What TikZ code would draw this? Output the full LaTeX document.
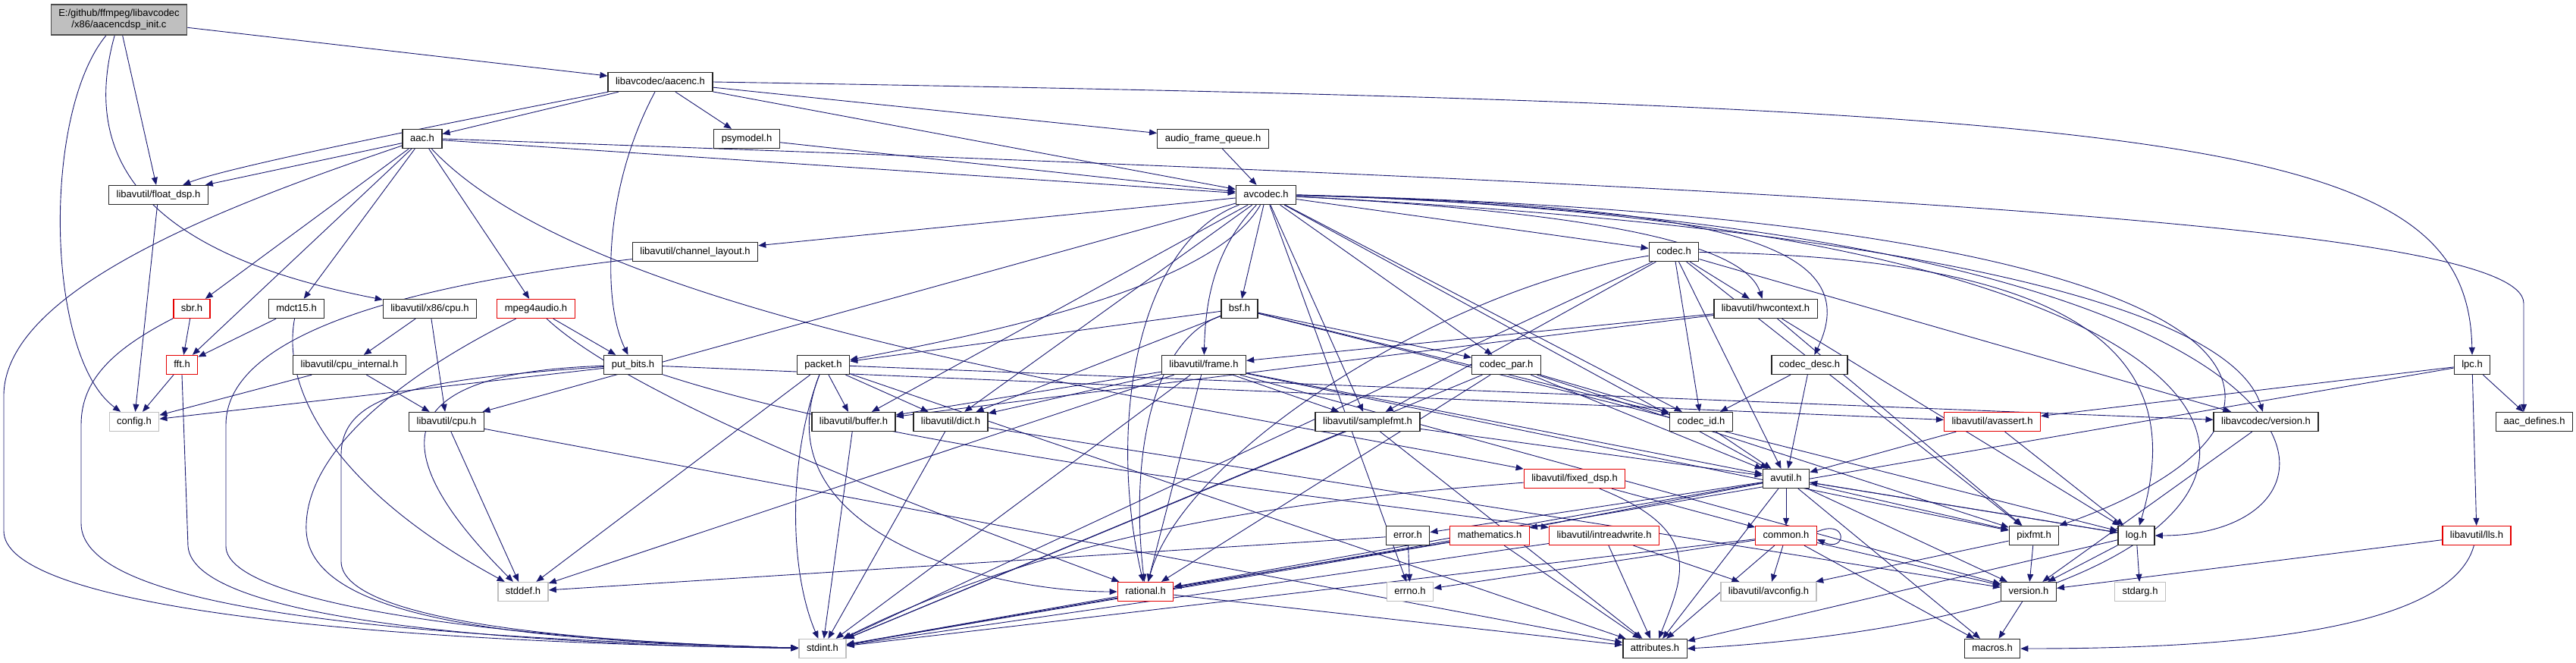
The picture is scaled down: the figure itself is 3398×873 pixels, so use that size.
\documentclass[tikz,border=0pt]{standalone}
\usepackage{fontspec}
\setmainfont{Liberation Sans}
\usepackage{tikz}
\usetikzlibrary{arrows.meta, positioning, backgrounds}
\definecolor{edgeblue}{HTML}{191970}
\definecolor{rootgray}{HTML}{BFBFBF}
\tikzstyle{file} = [rectangle, draw=black!85, fill=white, line width=1.3pt,
 inner xsep=10pt, inner ysep=0pt, minimum height=25pt,
 text height=10pt, text depth=3pt, font=\fontsize{13}{15}\selectfont]
\tikzstyle{cut} = [file, draw=red!90!black]
\tikzstyle{sys} = [file, draw=black!25]
\tikzstyle{main} = [rectangle, draw=black!70, fill=rootgray, line width=1.3pt,
 inner xsep=10pt, minimum height=40pt, align=center,
 font=\fontsize{13}{15}\selectfont]
\tikzstyle{dep} = [draw=edgeblue, line width=0.9pt, -{Triangle[length=10pt,width=8pt]}]

\begin{document}
\begin{tikzpicture}[x=1pt, y=-1pt]
\useasboundingbox (0,0) rectangle (3398,873);
% files, row by row
\node(root) [main] at (157,26) {E:/github/ffmpeg/libavcodec\\/x86/aacencdsp\_init.c};
\node(aacenc) [file] at (871,108) {libavcodec/aacenc.h};
\node(aac) [file] at (557,183) {aac.h};
\node(psymodel) [file] at (985,183) {psymodel.h};
\node(audio_frame_queue) [file] at (1600,183) {audio\_frame\_queue.h};
\node(float_dsp) [file] at (209,257) {libavutil/float\_dsp.h};
\node(avcodec) [file] at (1670,257) {avcodec.h};
\node(channel_layout) [file] at (917,332) {libavutil/channel\_layout.h};
\node(codec) [file] at (2208,332) {codec.h};
\node(sbr) [cut] at (253,407) {sbr.h};
\node(mdct15) [file] at (391,407) {mdct15.h};
\node(x86_cpu) [file] at (567,407) {libavutil/x86/cpu.h};
\node(mpeg4audio) [cut] at (707,407) {mpeg4audio.h};
\node(bsf) [file] at (1635,407) {bsf.h};
\node(hwcontext) [file] at (2329,407) {libavutil/hwcontext.h};
\node(fft) [cut] at (240,481) {fft.h};
\node(cpu_internal) [file] at (461,481) {libavutil/cpu\_internal.h};
\node(put_bits) [file] at (835,481) {put\_bits.h};
\node(packet) [file] at (1086,481) {packet.h};
\node(frame) [file] at (1588,481) {libavutil/frame.h};
\node(codec_par) [file] at (1987,481) {codec\_par.h};
\node(codec_desc) [file] at (2387,481) {codec\_desc.h};
\node(lpc) [file] at (3261,481) {lpc.h};
\node(config) [sys] at (177,556) {config.h};
\node(cpu) [file] at (589,556) {libavutil/cpu.h};
\node(buffer) [file] at (1126,556) {libavutil/buffer.h};
\node(dict) [file] at (1254,556) {libavutil/dict.h};
\node(samplefmt) [file] at (1804,556) {libavutil/samplefmt.h};
\node(codec_id) [file] at (2244,556) {codec\_id.h};
\node(avassert) [cut] at (2628,556) {libavutil/avassert.h};
\node(avc_version) [file] at (2989,556) {libavcodec/version.h};
\node(aac_defines) [file] at (3343,556) {aac\_defines.h};
\node(fixed_dsp) [cut] at (2077,631) {libavutil/fixed\_dsp.h};
\node(avutil) [file] at (2356,631) {avutil.h};
\node(error) [file] at (1857,706) {error.h};
\node(mathematics) [cut] at (1965,706) {mathematics.h};
\node(intreadwrite) [cut] at (2116,706) {libavutil/intreadwrite.h};
\node(common) [cut] at (2356,706) {common.h};
\node(pixfmt) [file] at (2683,706) {pixfmt.h};
\node(log) [file] at (2818,706) {log.h};
\node(lls) [cut] at (3267,706) {libavutil/lls.h};
\node(stddef) [sys] at (690,780) {stddef.h};
\node(rational) [cut] at (1511,780) {rational.h};
\node(errno) [sys] at (1860,780) {errno.h};
\node(avconfig) [sys] at (2333,780) {libavutil/avconfig.h};
\node(version) [file] at (2676,780) {version.h};
\node(stdarg) [sys] at (2823,780) {stdarg.h};
\node(stdint) [sys] at (1085,855) {stdint.h};
\node(attributes) [file] at (2183,855) {attributes.h};
\node(macros) [file] at (2628,855) {macros.h};
\begin{scope}[on background layer]
% source file
\draw[dep] (root) .. controls (55,150) and (60,470) .. (config);
\draw[dep] (root) -- (float_dsp);
\draw[dep] (root) .. controls (100,230) and (220,340) .. (x86_cpu);
\draw[dep] (root) -- (aacenc);
% aacenc.h
\draw[dep] (aacenc) .. controls (600,160) and (300,220) .. (float_dsp);
\draw[dep] (aacenc) -- (aac);
\draw[dep] (aacenc) -- (psymodel);
\draw[dep] (aacenc) -- (audio_frame_queue);
\draw[dep] (aacenc) -- (avcodec);
\draw[dep] (aacenc) .. controls (795,250) and (795,400) .. (put_bits);
\draw[dep] (aacenc.east) .. controls (2900,140) and (3255,180) .. (lpc.north);
% aac.h
\draw[dep] (aac) -- (float_dsp);
\draw[dep] (aac) .. controls (300,270) and (8,380) .. (5,520) -- (5,700) .. controls (5,790) and (400,845) .. (stdint);
\draw[dep] (aac) -- (sbr);
\draw[dep] (aac) -- (fft);
\draw[dep] (aac) -- (mdct15);
\draw[dep] (aac) -- (mpeg4audio);
\draw[dep] (aac) .. controls (780,420) and (1500,520) .. (fixed_dsp);
\draw[dep] (aac) -- (avcodec);
\draw[dep] (aac.east) .. controls (2500,250) and (3329,300) .. (3329,400) -- ([xshift=-14pt]aac_defines.north);
% left column
\draw[dep] (float_dsp) -- (config);
\draw[dep] (sbr) -- (fft);
\draw[dep] (sbr) .. controls (150,460) and (107,500) .. (107,560) -- (107,690) .. controls (107,800) and (500,840) .. (stdint);
\draw[dep] (mdct15) -- (fft);
\draw[dep] (mdct15) .. controls (370,520) and (450,650) .. (stddef);
\draw[dep] (x86_cpu) -- (cpu_internal);
\draw[dep] (x86_cpu) -- (cpu);
\draw[dep] (mpeg4audio) .. controls (520,500) and (400,600) .. (404,700) .. controls (410,820) and (700,845) .. (stdint);
\draw[dep] (mpeg4audio) -- (put_bits);
\draw[dep] (mpeg4audio) .. controls (850,540) and (1300,700) .. (rational);
\draw[dep] (channel_layout) .. controls (500,380) and (298,450) .. (298,560) -- (298,720) .. controls (298,800) and (700,845) .. (stdint);
\draw[dep] (fft) -- (config);
\draw[dep] (fft.south) -- (248,720) .. controls (255,820) and (700,850) .. (stdint);
\draw[dep] (cpu_internal) -- (config);
\draw[dep] (cpu_internal) -- (cpu);
\draw[dep] (put_bits) .. controls (550,500) and (450,520) .. (450,600) -- (450,740) .. controls (450,810) and (700,845) .. (stdint);
\draw[dep] (put_bits) .. controls (560,490) and (470,560) .. (stddef);
\draw[dep] (put_bits) -- (config);
\draw[dep] (put_bits) -- (avassert);
\draw[dep] (put_bits) .. controls (1200,600) and (1800,660) .. (intreadwrite);
\draw[dep] (cpu) -- (stddef);
\draw[dep] (cpu) -- (attributes);
\draw[dep] (psymodel) -- (avcodec);
\draw[dep] (audio_frame_queue) -- (avcodec);
% avcodec.h
\draw[dep] (avcodec) -- (channel_layout);
\draw[dep] (avcodec) -- (codec);
\draw[dep] (avcodec) .. controls (2100,280) and (2300,320) .. (hwcontext);
\draw[dep] (avcodec) .. controls (2300,270) and (2460,330) .. (codec_desc);
\draw[dep] (avcodec) -- (bsf);
\draw[dep] (avcodec) .. controls (1600,380) and (1300,440) .. (packet);
\draw[dep] (avcodec) .. controls (1600,330) and (1590,400) .. (frame);
\draw[dep] (avcodec) -- (buffer);
\draw[dep] (avcodec) -- (dict);
\draw[dep] (avcodec) -- (samplefmt);
\draw[dep] (avcodec) -- (codec_par);
\draw[dep] (avcodec) -- (codec_id);
\draw[dep] (avcodec) .. controls (1500,320) and (1460,560) .. (rational);
\draw[dep] (avcodec) -- (errno);
\draw[dep] (avcodec) -- (avutil);
\draw[dep] (avcodec) -- (cpu);
\draw[dep] (avcodec) .. controls (2500,300) and (2940,400) .. (avc_version);
\draw[dep] (avcodec.east) .. controls (3096,290) and (3096,560) .. (pixfmt.north east);
\draw[dep] (avcodec.east) .. controls (3146,300) and (3146,706) .. (log.east);
\draw[dep] (avcodec.east) .. controls (3197,300) and (3197,800) .. (attributes.east);
% codec.h and hwcontext.h
\draw[dep] (codec) -- (hwcontext);
\draw[dep] (codec) -- (avutil);
\draw[dep] (codec) -- (codec_id);
\draw[dep] (codec) -- (samplefmt);
\draw[dep] (codec) .. controls (1900,380) and (1560,600) .. (rational);
\draw[dep] (codec) -- (pixfmt);
\draw[dep] (codec) .. controls (2800,340) and (2880,500) .. (log);
\draw[dep] (codec) -- (avc_version);
\draw[dep] (codec) -- (stdint);
\draw[dep] (hwcontext) -- (buffer);
\draw[dep] (hwcontext) -- (frame);
\draw[dep] (hwcontext) -- (log);
\draw[dep] (hwcontext) -- (pixfmt);
% bsf.h, frame.h, codec_par.h, codec_desc.h
\draw[dep] (bsf) -- (dict);
\draw[dep] (bsf) -- (log);
\draw[dep] (bsf) .. controls (1520,450) and (1490,600) .. (rational);
\draw[dep] (bsf) -- (codec_id);
\draw[dep] (bsf) -- (codec_par);
\draw[dep] (bsf) -- (packet);
\draw[dep] (frame) -- (avutil);
\draw[dep] (frame) -- (buffer);
\draw[dep] (frame) -- (dict);
\draw[dep] (frame) -- (rational);
\draw[dep] (frame) -- (samplefmt);
\draw[dep] (frame) -- (pixfmt);
\draw[dep] (frame) -- (version);
\draw[dep] (frame) -- (stdint);
\draw[dep] (frame) -- (stddef);
\draw[dep] (codec_par) -- (avutil);
\draw[dep] (codec_par) -- (rational);
\draw[dep] (codec_par) -- (pixfmt);
\draw[dep] (codec_par) -- (codec_id);
\draw[dep] (codec_par) -- (stdint);
\draw[dep] (codec_desc) -- (avutil);
\draw[dep] (codec_desc) -- (codec_id);
% packet.h and friends
\draw[dep] (packet) -- (buffer);
\draw[dep] (packet) -- (dict);
\draw[dep] (packet) .. controls (1000,700) and (1300,780) .. (rational);
\draw[dep] (packet) .. controls (1040,600) and (1040,750) .. (stdint);
\draw[dep] (packet) -- (stddef);
\draw[dep] (packet) -- (attributes);
\draw[dep] (packet) -- (avc_version);
\draw[dep] (buffer) -- (stdint);
\draw[dep] (dict) -- (stdint);
\draw[dep] (dict) -- (version);
\draw[dep] (samplefmt) -- (avutil);
\draw[dep] (samplefmt) -- (attributes);
\draw[dep] (samplefmt) -- (stdint);
\draw[dep] (codec_id) -- (avutil);
% libavutil core
\draw[dep] (avutil) -- (common);
\draw[dep] (avutil) -- (error);
\draw[dep] (avutil) -- (rational);
\draw[dep] (avutil) -- (version);
\draw[dep] (avutil) -- (macros);
\draw[dep] (avutil) -- (mathematics);
\draw[dep] (avutil) -- (log);
\draw[dep] (avutil) -- (pixfmt);
\draw[dep] (avutil) -- (attributes);
\draw[dep] (common) -- (errno);
\draw[dep] (common) -- (avconfig);
\draw[dep] (common) -- (attributes);
\draw[dep] (common) -- (macros);
\draw[dep] (common) -- (stdint);
\draw[dep] (common) -- (version);
\draw[dep] ([yshift=5pt]common.east) .. controls +(40,-18) and +(40,18) .. ([yshift=-5pt]common.east);
\draw[dep] (error) -- (errno);
\draw[dep] (error) -- (stddef);
\draw[dep] (mathematics) -- (rational);
\draw[dep] (mathematics) -- (attributes);
\draw[dep] (mathematics) -- (stdint);
\draw[dep] (intreadwrite) -- (stdint);
\draw[dep] (intreadwrite) -- (attributes);
\draw[dep] (intreadwrite) -- (avconfig);
\draw[dep] (fixed_dsp) .. controls (1700,660) and (1400,700) .. (stdint);
\draw[dep] (fixed_dsp) .. controls (2250,700) and (2220,760) .. (attributes);
\draw[dep] (fixed_dsp) -- (common);
\draw[dep] (rational) -- (stdint);
\draw[dep] (rational) -- (attributes);
\draw[dep] (avassert) -- (avutil);
\draw[dep] (avassert) -- (log);
\draw[dep] (log) -- (stdarg);
\draw[dep] (log) -- (version);
\draw[dep] (log) -- (attributes);
\draw[dep] (log) -- (avutil);
\draw[dep] (pixfmt) -- (avconfig);
\draw[dep] (pixfmt) -- (version);
\draw[dep] (version) -- (macros);
\draw[dep] (avc_version) -- (version);
% lpc.h
\draw[dep] (lpc) -- (aac_defines);
\draw[dep] (lpc) -- (lls);
\draw[dep] (lpc) -- (avassert);
\draw[dep] (lpc) -- (stdint);
\draw[dep] (lls) -- (version);
\draw[dep] (lls) .. controls (3230,840) and (2900,855) .. (macros);
\end{scope}
\end{tikzpicture}
\end{document}
